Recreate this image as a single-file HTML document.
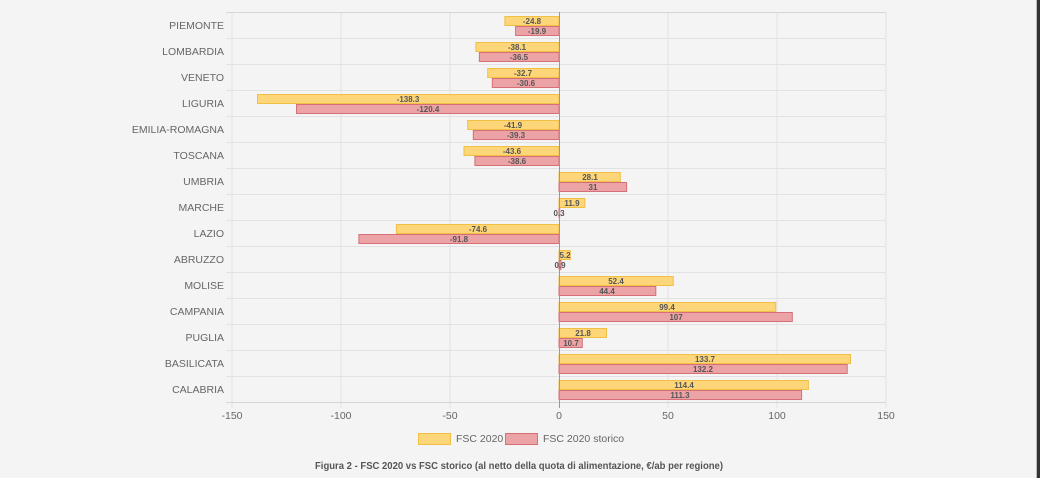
<!DOCTYPE html>
<html><head><meta charset="utf-8"><style>
html,body{margin:0;padding:0;background:#f4f4f4;width:1040px;height:478px;overflow:hidden}
svg{display:block;font-family:"Liberation Sans",Arial,sans-serif}
.l{font-size:10.5px;fill:#666;text-anchor:end}
.v{font-size:8px;fill:#555;font-weight:bold;text-anchor:middle}
.t{font-size:10.5px;fill:#666;text-anchor:middle}
.y{fill:#fdd67a;stroke:#f2bf45;stroke-width:1}
.r{fill:#eba3a6;stroke:#d66f78;stroke-width:1}
</style></head><body>
<svg width="1040" height="478" viewBox="0 0 1040 478">
<rect x="1036" y="0" width="1" height="478" fill="#bbb"/>
<rect x="1037" y="0" width="3" height="478" fill="#333"/>
<g stroke="#e2e2e2" stroke-width="1">
<line x1="232" y1="12" x2="232" y2="408"/><line x1="341" y1="12" x2="341" y2="408"/><line x1="450" y1="12" x2="450" y2="408"/><line x1="668" y1="12" x2="668" y2="408"/><line x1="777" y1="12" x2="777" y2="408"/><line x1="886" y1="12" x2="886" y2="408"/>
<line x1="226" y1="12.5" x2="886" y2="12.5" stroke="#d6d6d6"/>
<line x1="226" y1="38.5" x2="886" y2="38.5"/><line x1="226" y1="64.5" x2="886" y2="64.5"/><line x1="226" y1="90.5" x2="886" y2="90.5"/><line x1="226" y1="116.5" x2="886" y2="116.5"/><line x1="226" y1="142.5" x2="886" y2="142.5"/><line x1="226" y1="168.5" x2="886" y2="168.5"/><line x1="226" y1="194.5" x2="886" y2="194.5"/><line x1="226" y1="220.5" x2="886" y2="220.5"/><line x1="226" y1="246.5" x2="886" y2="246.5"/><line x1="226" y1="272.5" x2="886" y2="272.5"/><line x1="226" y1="298.5" x2="886" y2="298.5"/><line x1="226" y1="324.5" x2="886" y2="324.5"/><line x1="226" y1="350.5" x2="886" y2="350.5"/><line x1="226" y1="376.5" x2="886" y2="376.5"/>
<line x1="226" y1="402.5" x2="886" y2="402.5" stroke="#d6d6d6"/>
</g>
<g>
<rect class="y" x="504.9" y="16.5" width="54.1" height="9"/><rect class="r" x="515.6" y="26.5" width="43.4" height="9"/>
<rect class="y" x="475.9" y="42.5" width="83.1" height="9"/><rect class="r" x="479.4" y="52.5" width="79.6" height="9"/>
<rect class="y" x="487.7" y="68.5" width="71.3" height="9"/><rect class="r" x="492.3" y="78.5" width="66.7" height="9"/>
<rect class="y" x="257.5" y="94.5" width="301.5" height="9"/><rect class="r" x="296.5" y="104.5" width="262.5" height="9"/>
<rect class="y" x="467.7" y="120.5" width="91.3" height="9"/><rect class="r" x="473.3" y="130.5" width="85.7" height="9"/>
<rect class="y" x="464" y="146.5" width="95" height="9"/><rect class="r" x="474.9" y="156.5" width="84.1" height="9"/>
<rect class="y" x="559" y="172.5" width="61.3" height="9"/><rect class="r" x="559" y="182.5" width="67.6" height="9"/>
<rect class="y" x="559" y="198.5" width="25.9" height="9"/><rect class="r" x="559" y="208.5" width="0.7" height="9"/>
<rect class="y" x="396.4" y="224.5" width="162.6" height="9"/><rect class="r" x="358.9" y="234.5" width="200.1" height="9"/>
<rect class="y" x="559" y="250.5" width="11.3" height="9"/><rect class="r" x="559" y="260.5" width="2" height="9"/>
<rect class="y" x="559" y="276.5" width="114.2" height="9"/><rect class="r" x="559" y="286.5" width="96.8" height="9"/>
<rect class="y" x="559" y="302.5" width="216.7" height="9"/><rect class="r" x="559" y="312.5" width="233.3" height="9"/>
<rect class="y" x="559" y="328.5" width="47.5" height="9"/><rect class="r" x="559" y="338.5" width="23.3" height="9"/>
<rect class="y" x="559" y="354.5" width="291.5" height="9"/><rect class="r" x="559" y="364.5" width="288.2" height="9"/>
<rect class="y" x="559" y="380.5" width="249.4" height="9"/><rect class="r" x="559" y="390.5" width="242.6" height="9"/>
</g>
<line x1="559.5" y1="12" x2="559.5" y2="408" stroke="#999"/>
<g class="v">
<text x="532" y="24">-24.8</text><text x="537" y="34">-19.9</text>
<text x="517" y="50">-38.1</text><text x="519" y="60">-36.5</text>
<text x="523" y="76">-32.7</text><text x="526" y="86">-30.6</text>
<text x="408" y="102">-138.3</text><text x="428" y="112">-120.4</text>
<text x="513" y="128">-41.9</text><text x="516" y="138">-39.3</text>
<text x="512" y="154">-43.6</text><text x="517" y="164">-38.6</text>
<text x="590" y="180">28.1</text><text x="593" y="190">31</text>
<text x="572" y="206">11.9</text><text x="559" y="216">0.3</text>
<text x="478" y="232">-74.6</text><text x="459" y="242">-91.8</text>
<text x="565" y="258">5.2</text><text x="560" y="268">0.9</text>
<text x="616" y="284">52.4</text><text x="607" y="294">44.4</text>
<text x="667" y="310">99.4</text><text x="676" y="320">107</text>
<text x="583" y="336">21.8</text><text x="571" y="346">10.7</text>
<text x="705" y="362">133.7</text><text x="703" y="372">132.2</text>
<text x="684" y="388">114.4</text><text x="680" y="398">111.3</text>
</g>
<g class="l">
<text x="224" y="29">PIEMONTE</text><text x="224" y="55">LOMBARDIA</text><text x="224" y="81">VENETO</text><text x="224" y="107">LIGURIA</text><text x="224" y="133">EMILIA-ROMAGNA</text><text x="224" y="159">TOSCANA</text><text x="224" y="185">UMBRIA</text><text x="224" y="211">MARCHE</text><text x="224" y="237">LAZIO</text><text x="224" y="263">ABRUZZO</text><text x="224" y="289">MOLISE</text><text x="224" y="315">CAMPANIA</text><text x="224" y="341">PUGLIA</text><text x="224" y="367">BASILICATA</text><text x="224" y="393">CALABRIA</text>
</g>
<g class="t">
<text x="232" y="419">-150</text><text x="341" y="419">-100</text><text x="450" y="419">-50</text><text x="559" y="419">0</text><text x="668" y="419">50</text><text x="777" y="419">100</text><text x="886" y="419">150</text>
</g>
<rect class="y" x="418.5" y="433.5" width="32" height="11"/>
<text x="456" y="442" style="font-size:10.5px;fill:#666">FSC 2020</text>
<rect class="r" x="505.5" y="433.5" width="32" height="11"/>
<text x="543" y="442" style="font-size:10.5px;fill:#666">FSC 2020 storico</text>
<text x="315" y="469" textLength="408" lengthAdjust="spacingAndGlyphs" style="font-size:10px;fill:#555;font-weight:bold">Figura 2 - FSC 2020 vs FSC storico (al netto della quota di alimentazione, €/ab per regione)</text>
</svg>
</body></html>
